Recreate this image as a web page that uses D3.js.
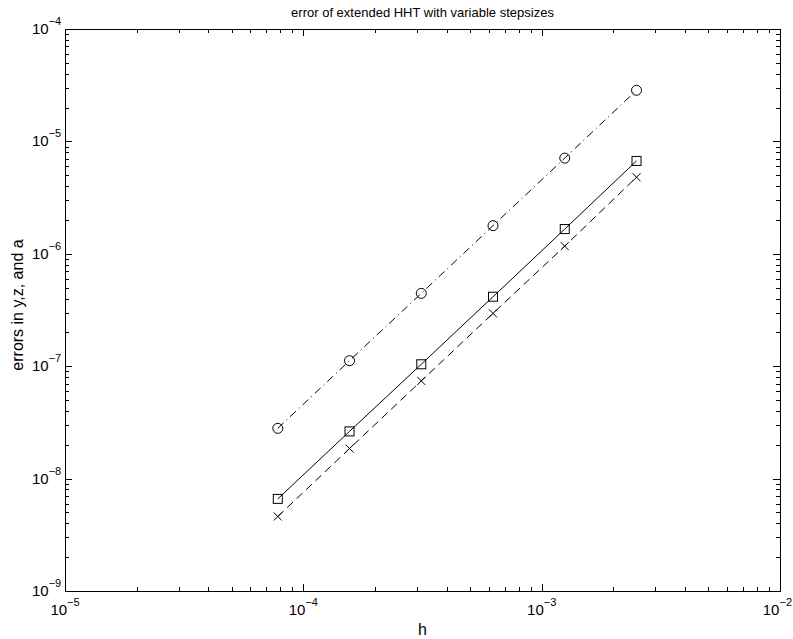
<!DOCTYPE html>
<html>
<head>
<meta charset="utf-8">
<script src="https://cdn.jsdelivr.net/npm/d3@7"></script>
<style>
  body { margin: 0; background: #fff; }
  svg { display: block; font-family: "Liberation Sans", Arial, sans-serif; }
</style>
</head>
<body>
<div id="chart"></div>
<script>
// step sizes h
const hValues = [7.8125e-5, 1.5625e-4, 3.125e-4, 6.25e-4, 1.25e-3, 2.5e-3];
// errors
const errCircle = [2.8e-8, 1.12e-7, 4.45e-7, 1.78e-6, 7.1e-6, 2.85e-5];
const errSquare = [6.6e-9, 2.63e-8, 1.04e-7, 4.15e-7, 1.66e-6, 6.7e-6];
const errCross = [4.6e-9, 1.85e-8, 7.4e-8, 2.95e-7, 1.17e-6, 4.8e-6];

const xDecades = [-5, -4, -3, -2];
const yDecades = [-9, -8, -7, -6, -5, -4];

const width = 793, height = 639;
const margin = { top: 29, right: 13, bottom: 48, left: 65 };
const plotW = width - margin.left - margin.right;
const plotH = height - margin.top - margin.bottom;

const svg = d3.select('#chart').append('svg')
    .attr('width', width)
    .attr('height', height);

const x = d3.scaleLog().domain([1e-5, 1e-2]).range([0, plotW]);
const y = d3.scaleLog().domain([1e-9, 1e-4]).range([plotH, 0]);

const chart = svg.append('g')
    .attr('transform', `translate(${margin.left},${margin.top})`);

// major ticks at decades, minor at 2..9
function logTicks(decades) {
    const t = [];
    for (let i = 0; i < decades.length; i++) {
        const base = Math.pow(10, decades[i]);
        t.push({ v: base, major: true });
        if (i < decades.length - 1) {
            for (let k = 2; k <= 9; k++) t.push({ v: k * base, major: false });
        }
    }
    return t;
}
const majorLen = 7, minorLen = 4;

const ticks = chart.append('g')
    .attr('stroke', '#000')
    .attr('stroke-width', 1);

logTicks(xDecades).forEach(t => {
    const px = Math.round(x(t.v)) + 0.5;
    const len = t.major ? majorLen : minorLen;
    ticks.append('line').attr('x1', px).attr('x2', px).attr('y1', plotH).attr('y2', plotH - len);
    ticks.append('line').attr('x1', px).attr('x2', px).attr('y1', 0).attr('y2', len);
});
logTicks(yDecades).forEach(t => {
    const py = Math.round(y(t.v)) + 0.5;
    const len = t.major ? majorLen : minorLen;
    ticks.append('line').attr('y1', py).attr('y2', py).attr('x1', 0).attr('x2', len);
    ticks.append('line').attr('y1', py).attr('y2', py).attr('x1', plotW).attr('x2', plotW - len);
});

// box
chart.append('rect')
    .attr('x', 0.5).attr('y', 0.5)
    .attr('width', plotW).attr('height', plotH)
    .attr('fill', 'none')
    .attr('stroke', '#000')
    .attr('stroke-width', 1);

// tick labels
xDecades.forEach(d => {
    const t = chart.append('text')
        .attr('x', x(Math.pow(10, d)))
        .attr('y', plotH + 24)
        .style('font-size', '15px')
        .attr('text-anchor', 'middle');
    t.append('tspan').text('10');
    t.append('tspan').attr('dy', -9).style('font-size', '11px').text('\u2212' + Math.abs(d));
    // keep the last label inside the page
    const box = t.node().getBBox();
    const over = margin.left + box.x + box.width - (width - 1);
    if (over > 0) t.attr('x', x(Math.pow(10, d)) - over);
});
yDecades.forEach(d => {
    const t = chart.append('text')
        .attr('x', -33)
        .attr('y', y(Math.pow(10, d)) + 5)
        .style('font-size', '15px')
        .attr('text-anchor', 'start');
    t.append('tspan').text('10');
    t.append('tspan').attr('dy', -9).style('font-size', '11px').text('\u2212' + Math.abs(d));
});

// series
const series = [
    { values: errCircle, dash: '8,4,1,4', marker: 'circle' },
    { values: errSquare, dash: null, marker: 'square' },
    { values: errCross, dash: '8,5', marker: 'cross' }
];

const line = d3.line()
    .x(d => x(d[0]))
    .y(d => y(d[1]));

series.forEach(s => {
    const pts = hValues.map((h, i) => [h, s.values[i]]);
    chart.append('path')
        .datum(pts)
        .attr('d', line)
        .attr('fill', 'none')
        .attr('stroke', '#000')
        .attr('stroke-width', 1)
        .attr('stroke-dasharray', s.dash);

    const g = chart.append('g').attr('stroke', '#000').attr('fill', 'none').attr('stroke-width', 1);
    pts.forEach(p => {
        const px = x(p[0]), py = y(p[1]);
        if (s.marker === 'circle') {
            g.append('circle').attr('cx', px).attr('cy', py).attr('r', 5);
        } else if (s.marker === 'square') {
            g.append('rect').attr('x', px - 4.5).attr('y', py - 4.5).attr('width', 9).attr('height', 9);
        } else {
            g.append('path').attr('d', `M${px - 4},${py - 4}L${px + 4},${py + 4}M${px - 4},${py + 4}L${px + 4},${py - 4}`);
        }
    });
});

// title and axis labels
svg.append('text')
    .attr('x', margin.left + plotW / 2)
    .attr('y', 17)
    .attr('text-anchor', 'middle')
    .style('font-size', '13px')
    .text('error of extended HHT with variable stepsizes');

svg.append('text')
    .attr('x', margin.left + plotW / 2)
    .attr('y', 635)
    .attr('text-anchor', 'middle')
    .style('font-size', '16px')
    .text('h');

svg.append('text')
    .attr('transform', `translate(23,305) rotate(-90)`)
    .attr('text-anchor', 'middle')
    .style('font-size', '16px')
    .text('errors in y,z, and a');
</script>
</body>
</html>
